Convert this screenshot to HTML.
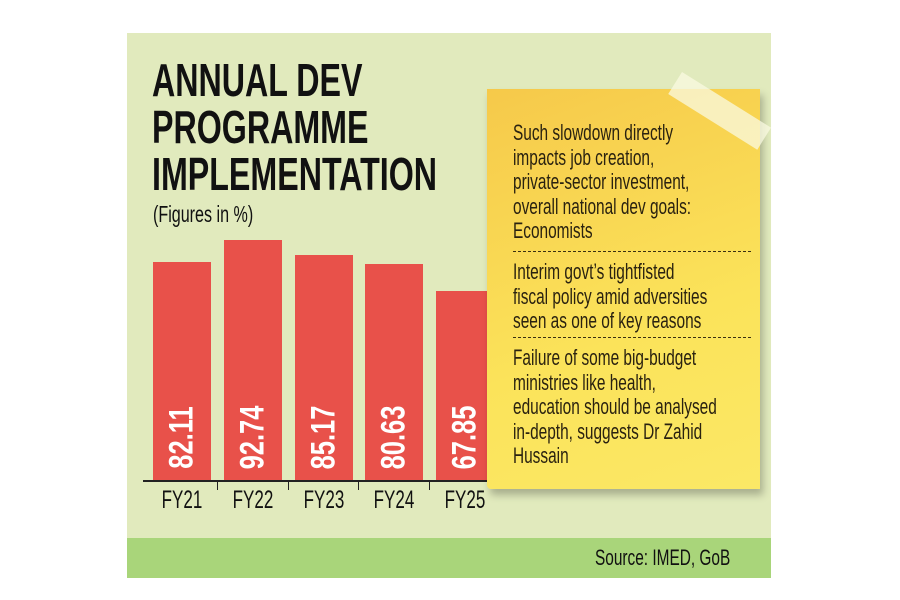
<!DOCTYPE html>
<html><head><style>
body{margin:0;width:900px;height:600px;background:#fff;position:relative;overflow:hidden;font-family:"Liberation Sans",sans-serif}
.panel{position:absolute;left:127px;top:33px;width:644px;height:545px;background:#e1eabd}
.stripe{position:absolute;left:127px;top:538px;width:644px;height:40px;background:#a9d57a}
.t{position:absolute;transform-origin:0 0;white-space:nowrap}
.title{left:152px;font-weight:bold;font-size:46px;color:#111;transform:scaleX(0.7);line-height:47px;top:57px}
.bar{position:absolute;background:#e8514a;width:58px}
.val{position:absolute;color:#fff;font-weight:bold;font-size:34px;transform:rotate(-90deg) scaleX(0.75);transform-origin:center;width:100px;text-align:center}
.fy{position:absolute;top:486px;font-size:25px;color:#111;transform:scaleX(0.68);transform-origin:center;width:70px;text-align:center}
.note{position:absolute;left:487px;top:89px;width:273px;height:400px;background:linear-gradient(160deg,#f6c94a,#fbe35a 60%,#fbe866);box-shadow:3px 6px 8px rgba(0,0,0,0.25);border-bottom-left-radius:4px}
.nt{position:absolute;left:513px;font-size:22px;color:#2a2210;line-height:24.5px;transform:scaleX(0.7);transform-origin:0 0;white-space:nowrap}
.dash{position:absolute;left:513px;width:238px;border-top:1.5px dashed #3a3010}
</style></head><body>
<div class="panel"></div>
<div class="stripe"></div>
<div class="t" style="left:595px;top:545px;font-size:22px;color:#111;transform:scaleX(0.7);transform-origin:0 0">Source: IMED, GoB</div>
<div class="t title">ANNUAL DEV<br>PROGRAMME<br>IMPLEMENTATION</div>
<div class="t" style="left:153px;top:201px;font-size:23px;color:#111;transform:scaleX(0.7)">(Figures in %)</div>

<div class="bar" style="left:153px;top:262px;height:219px"></div>
<div class="bar" style="left:224px;top:240px;height:241px"></div>
<div class="bar" style="left:295px;top:255px;height:226px"></div>
<div class="bar" style="left:365px;top:264px;height:217px"></div>
<div class="bar" style="left:436px;top:291px;height:190px"></div>
<div class="val" style="left:132px;top:418px">82.11</div>
<div class="val" style="left:203px;top:418px">92.74</div>
<div class="val" style="left:274px;top:418px">85.17</div>
<div class="val" style="left:344px;top:418px">80.63</div>
<div class="val" style="left:415px;top:418px">67.85</div>
<div style="position:absolute;left:143px;top:480px;width:364px;height:2px;background:#222"></div>
<div style="position:absolute;left:217px;top:482px;width:1px;height:8px;background:#222"></div>
<div style="position:absolute;left:288px;top:482px;width:1px;height:8px;background:#222"></div>
<div style="position:absolute;left:358px;top:482px;width:1px;height:8px;background:#222"></div>
<div style="position:absolute;left:429px;top:482px;width:1px;height:8px;background:#222"></div>
<div class="fy" style="left:147px">FY21</div>
<div class="fy" style="left:218px">FY22</div>
<div class="fy" style="left:289px">FY23</div>
<div class="fy" style="left:359px">FY24</div>
<div class="fy" style="left:430px">FY25</div>

<div class="note"></div>
<div style="position:absolute;left:682px;top:72px;width:105px;height:26px;background:rgba(250,250,225,0.75);transform:rotate(32deg);transform-origin:0 0"></div>
<div class="nt" style="top:121px">Such slowdown directly<br>impacts job creation,<br>private-sector investment,<br>overall national dev goals:<br>Economists</div>
<div class="dash" style="top:251px"></div>
<div class="nt" style="top:260px">Interim govt’s tightfisted<br>fiscal policy amid adversities<br>seen as one of key reasons</div>
<div class="dash" style="top:337px"></div>
<div class="nt" style="top:346px">Failure of some big-budget<br>ministries like health,<br>education should be analysed<br>in-depth, suggests Dr Zahid<br>Hussain</div>
</body></html>
